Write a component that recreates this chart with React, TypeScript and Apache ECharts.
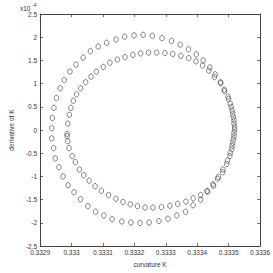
import { useEffect, useRef } from "react";
import * as echarts from "echarts";

// Outer loop: curvature K and its derivative (in units of 1e-4)
const outerK = [
  0.332937, 0.332939, 0.332944, 0.332952, 0.332964, 0.332977, 0.332995, 0.333014, 0.333037, 0.33306,
  0.333085, 0.333112, 0.333142, 0.333169, 0.333199, 0.333228, 0.333257, 0.333288, 0.333318, 0.333346,
  0.333372, 0.333397, 0.333419, 0.33344, 0.333457, 0.333474, 0.333486, 0.333498, 0.333505, 0.333511,
  0.333515, 0.333517, 0.333519,
  0.333517, 0.333513, 0.33351, 0.333504, 0.333494, 0.333481, 0.333465, 0.333452, 0.333433, 0.333411,
  0.333387, 0.333363, 0.333335, 0.333307, 0.333278, 0.333247, 0.333218, 0.333189, 0.33316, 0.333129,
  0.333103, 0.333077, 0.333052, 0.333029, 0.333008, 0.332989, 0.332973, 0.33296, 0.332948, 0.332943,
  0.332937,
];
const outerD = [
  0.04, 0.26, 0.48, 0.69, 0.9, 1.08, 1.26, 1.41, 1.56, 1.7,
  1.8, 1.88, 1.95, 2.01, 2.04, 2.05, 2.03, 1.98, 1.92, 1.84,
  1.74, 1.63, 1.5, 1.35, 1.2, 1.03, 0.87, 0.72, 0.57, 0.42,
  0.28, 0.14, 0.01,
  -0.13, -0.27, -0.41, -0.56, -0.73, -0.91, -1.05, -1.2, -1.33, -1.5,
  -1.62, -1.76, -1.84, -1.91, -1.96, -1.99, -2.0, -1.99, -1.97, -1.92,
  -1.84, -1.76, -1.64, -1.49, -1.34, -1.19, -1.0, -0.8, -0.61, -0.39,
  -0.18,
];

// Inner loop
const innerK = [
  0.332986, 0.332988, 0.332993, 0.332998, 0.333006, 0.333016, 0.333029, 0.333045, 0.333062, 0.333079,
  0.333101, 0.333122, 0.333146, 0.33317, 0.333195, 0.33322, 0.333245, 0.333271, 0.333297, 0.333322,
  0.333348, 0.333373, 0.333396, 0.333417, 0.333437, 0.333455, 0.333475, 0.333487, 0.3335, 0.333508,
  0.333513, 0.333517, 0.333519,
  0.333517, 0.333515, 0.333511, 0.333505, 0.333496, 0.333482, 0.333467, 0.33345, 0.333431, 0.333411,
  0.333387, 0.333364, 0.333338, 0.333313, 0.333286, 0.333259, 0.333234, 0.33321, 0.333187, 0.333164,
  0.333141, 0.333118, 0.333095, 0.333075, 0.333056, 0.333039, 0.333025, 0.333012, 0.333002, 0.332992,
  0.332988, 0.332986,
];
const innerD = [
  -0.08, 0.14, 0.33, 0.48, 0.63, 0.77, 0.9, 1.03, 1.15, 1.26,
  1.36, 1.45, 1.52, 1.57, 1.62, 1.65, 1.67, 1.67, 1.66, 1.64,
  1.6, 1.55, 1.48, 1.39, 1.28, 1.14, 1.01, 0.84, 0.67, 0.5,
  0.35, 0.21, 0.07,
  -0.06, -0.2, -0.34, -0.49, -0.66, -0.85, -1.01, -1.17, -1.31, -1.4,
  -1.47, -1.54, -1.59, -1.63, -1.66, -1.67, -1.67, -1.64, -1.6, -1.55,
  -1.48, -1.4, -1.31, -1.21, -1.09, -0.97, -0.85, -0.69, -0.56, -0.39,
  -0.24, -0.13,
];

const xMin = 0.3329;
const xMax = 0.3336;
const xStep = 0.0001;
const yMin = -2.5;
const yMax = 2.5;
const yStep = 0.5;
const xTitle = "curvature K";
const yTitle = "derivative of K";
const yExponentBase = "x10";
const yExponent = "-4";

const FONT = "Liberation Sans, Arial, Helvetica, sans-serif";
const AX = "#444";

export default function App() {
  const ref = useRef<HTMLDivElement>(null);
  useEffect(() => {
    const chart = echarts.init(ref.current!, null, { renderer: "svg" });
    const pts = (ks: number[], ds: number[]) => ks.map((k, i) => [k, ds[i]]);
    const axisCommon = {
      axisLine: { show: true, onZero: false, lineStyle: { color: AX, width: 1 } },
      axisTick: { show: true, inside: true, length: 3, lineStyle: { color: AX, width: 0.8 } },
      splitLine: { show: false },
    };
    const labelStyle = { color: "#333", fontSize: 6.5, fontFamily: FONT };
    const marker = {
      symbol: "circle",
      symbolSize: [4.5, 5.5],
      itemStyle: { color: "rgba(0,0,0,0)", borderColor: "#333", borderWidth: 0.75 },
    };
    chart.setOption({
      animation: false,
      backgroundColor: "#fff",
      grid: { left: 20, right: 11, top: 14, bottom: 18 },
      xAxis: [
        {
          type: "value",
          min: xMin,
          max: xMax,
          interval: xStep,
          position: "bottom",
          ...axisCommon,
          axisLabel: {
            ...labelStyle,
            margin: 3,
            formatter: (v: number) => String(parseFloat(v.toFixed(4))),
          },
          name: xTitle,
          nameLocation: "middle",
          nameGap: 11,
          nameTextStyle: { ...labelStyle },
        },
        {
          type: "value",
          min: xMin,
          max: xMax,
          interval: xStep,
          position: "top",
          ...axisCommon,
          axisLabel: { show: false },
        },
      ],
      yAxis: [
        {
          type: "value",
          min: yMin,
          max: yMax,
          interval: yStep,
          position: "left",
          ...axisCommon,
          axisLabel: { ...labelStyle, margin: 3 },
          name: yTitle,
          nameLocation: "middle",
          nameGap: 12,
          nameRotate: 90,
          nameTextStyle: { ...labelStyle },
        },
        {
          type: "value",
          min: yMin,
          max: yMax,
          interval: yStep,
          position: "right",
          ...axisCommon,
          axisLabel: { show: false },
        },
      ],
      graphic: [
        {
          type: "text",
          left: 20,
          top: 5,
          style: { text: yExponentBase, fontSize: 6.5, fontFamily: FONT, fill: "#333" },
        },
        {
          type: "text",
          left: 32,
          top: 2,
          style: { text: yExponent, fontSize: 5, fontFamily: FONT, fill: "#333" },
        },
      ],
      series: [
        { type: "scatter", data: pts(outerK, outerD), ...marker },
        { type: "scatter", data: pts(innerK, innerD), ...marker },
      ],
    });
    return () => chart.dispose();
  }, []);
  return (
    <div
      ref={ref}
      style={{ position: "fixed", left: 0, top: 0, width: 273, height: 273, background: "#fff" }}
    />
  );
}
